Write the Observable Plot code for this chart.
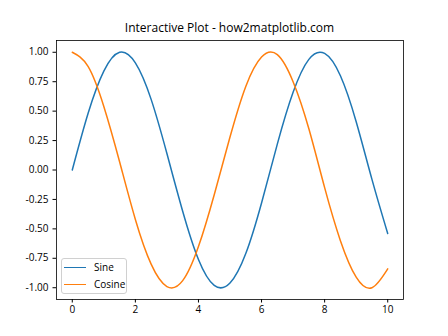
<!DOCTYPE html>
<html><head><meta charset="utf-8">
<script src="https://cdn.jsdelivr.net/npm/d3@7"></script>
<script src="https://cdn.jsdelivr.net/npm/@observablehq/plot@0.6"></script>
<style>
body{margin:0;background:#fff;}
#wrap{position:relative;width:448px;height:336px;font-family:"Open Sans",sans-serif;}
#title{position:absolute;left:56px;width:347px;top:20px;text-align:center;font-size:12px;color:#000;line-height:16px;}
#legend{position:absolute;left:61px;top:258px;width:64px;height:34px;border:1px solid #d0d0d0;border-radius:3px;background:rgba(255,255,255,0.8);font-size:10px;}
.row{position:absolute;left:2px;height:14px;line-height:14px;}
.row span.l{position:absolute;left:0;top:7px;width:22px;height:0;border-top:1.5px solid;}
.row span.t{position:absolute;left:30px;top:0;white-space:nowrap;}
</style></head>
<body><div id="wrap"><div id="title"></div><div id="legend"></div></div>
<script>
const titleText = "Interactive Plot - how2matplotlib.com";
const seriesNames = ["Sine", "Cosine"];
const seriesColors = ["#1f77b4", "#ff7f0e"];
const xs = [0,0.5,1,1.5,2,2.5,3,3.5,4,4.5,5,5.5,6,6.5,7,7.5,8,8.5,9,9.5,10];
const sineValues = [0,0.48,0.84,1.00,0.91,0.60,0.14,-0.35,-0.76,-0.98,-0.96,-0.71,-0.28,0.22,0.66,0.94,0.99,0.80,0.41,-0.08,-0.54];
const cosineValues = [1,0.88,0.54,0.07,-0.42,-0.80,-0.99,-0.94,-0.65,-0.21,0.28,0.71,0.96,0.98,0.75,0.35,-0.15,-0.60,-0.91,-1.00,-0.84];
const xTicks = [0,2,4,6,8,10];
const yTicks = [-1,-0.75,-0.5,-0.25,0,0.25,0.5,0.75,1];

const data = [];
xs.forEach((x,i)=>{
  data.push({x, y: sineValues[i], s: seriesNames[0]});
  data.push({x, y: cosineValues[i], s: seriesNames[1]});
});

const fam = '"Open Sans",sans-serif';
const plot = Plot.plot({
  width: 448, height: 336,
  marginLeft: 56, marginRight: 45, marginTop: 40, marginBottom: 37,
  style: {fontFamily: fam, fontSize: "10px", color: "#000", background: "#fff"},
  x: {domain: [-0.5, 10.5], label: null},
  y: {domain: [-1.1, 1.1], label: null},
  color: {domain: seriesNames, range: seriesColors},
  marks: [
    Plot.line(data, {x: "x", y: "y", z: "s", stroke: "s", strokeWidth: 1.5, curve: "natural"}),
    Plot.frame({stroke: "#000", strokeWidth: 0.8}),
    Plot.axisX({ticks: xTicks, tickSize: 3.5, tickPadding: 3, label: null, stroke: "#000"}),
    Plot.axisY({ticks: yTicks, tickSize: 3.5, tickPadding: 4.5, label: null, tickFormat: d => d.toFixed(2), stroke: "#000"})
  ]
});
const wrap = document.getElementById("wrap");
wrap.insertBefore(plot, wrap.firstChild);
document.getElementById("title").textContent = titleText;
const lg = document.getElementById("legend");
seriesNames.forEach((n,i)=>{
  const r = document.createElement("div");
  r.className = "row";
  r.style.top = (i===0 ? 1 : 18) + "px";
  r.innerHTML = `<span class="l" style="border-color:${seriesColors[i]}"></span><span class="t">${n}</span>`;
  lg.appendChild(r);
});
</script></body></html>
